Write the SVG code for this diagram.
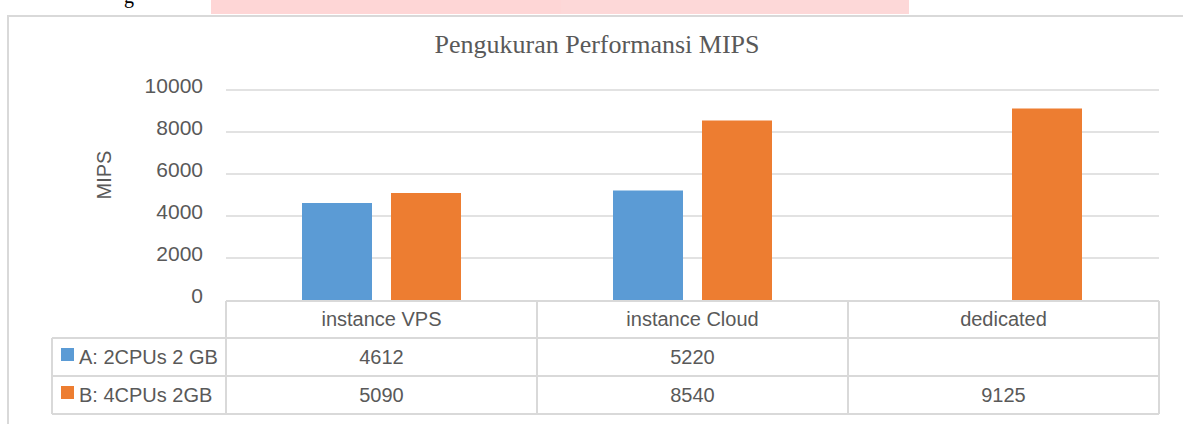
<svg xmlns="http://www.w3.org/2000/svg" width="1183" height="424" viewBox="0 0 1183 424">
<style>
.t{font-family:"Liberation Sans",Arial,sans-serif;font-size:20px;fill:#595959}
.y{font-size:21px}
.c{text-anchor:middle}
.r{text-anchor:end}
.g{stroke:#d9d9d9;stroke-width:1.6;fill:none}
.tb{stroke:#d9d9d9;stroke-width:2;fill:none}
.a{fill:#5b9bd5}
.b{fill:#ed7d31}
</style>
<rect width="1183" height="424" fill="#ffffff"/>
<g id="page-top">
<rect x="211" y="0" width="350" height="14" fill="#fed6d6"/>
<rect x="561" y="0" width="348" height="14" fill="#fdd8d8"/>
<text x="124" y="3" font-family="Liberation Serif,serif" font-size="20" fill="#000">g</text>
</g>
<rect id="chart-border" x="8" y="16" width="1200" height="440" fill="none" stroke="#d9d9d9" stroke-width="2"/>
<text id="title" x="597" y="53" class="c" font-family="Liberation Serif,'Times New Roman',serif" font-size="26" fill="#595959">Pengukuran Performansi MIPS</text>
<g id="gridlines">
<line class="g" x1="226" y1="90" x2="1159" y2="90"/>
<line class="g" x1="226" y1="132" x2="1159" y2="132"/>
<line class="g" x1="226" y1="174" x2="1159" y2="174"/>
<line class="g" x1="226" y1="216" x2="1159" y2="216"/>
<line class="g" x1="226" y1="258" x2="1159" y2="258"/>
</g>
<g id="y-axis">
<text class="t y r" x="203" y="93">10000</text>
<text class="t y r" x="203" y="135">8000</text>
<text class="t y r" x="203" y="177">6000</text>
<text class="t y r" x="203" y="219">4000</text>
<text class="t y r" x="203" y="261">2000</text>
<text class="t y r" x="203" y="303">0</text>
<text class="t c" font-size="23" transform="translate(111,175) rotate(-90)">MIPS</text>
</g>
<g id="bars">
<rect id="bar-a-vps" class="a" x="302" y="203" width="70" height="97"/>
<rect id="bar-b-vps" class="b" x="391" y="193" width="70" height="107"/>
<rect id="bar-a-cloud" class="a" x="613" y="190.5" width="70" height="109.5"/>
<rect id="bar-b-cloud" class="b" x="702" y="120.5" width="70" height="179.5"/>
<rect id="bar-b-dedicated" class="b" x="1012" y="108.5" width="70" height="191.5"/>
</g>
<g id="table">
<path class="tb" d="M226 301H1159M52 338H1159M52 376H1159M52 414H1159M52 338V414M226 301V414M537 301V414M848 301V414M1159 301V414"/>
<text class="t c" x="381.5" y="326">instance VPS</text>
<text class="t c" x="692.5" y="326">instance Cloud</text>
<text class="t c" x="1003.5" y="326">dedicated</text>
<rect class="a" x="61" y="348" width="13" height="13"/>
<text class="t" x="79" y="364">A: 2CPUs 2 GB</text>
<rect class="b" x="61" y="386" width="13" height="13"/>
<text class="t" x="79" y="402">B: 4CPUs 2GB</text>
<text class="t c" x="381.5" y="364">4612</text>
<text class="t c" x="692.5" y="364">5220</text>
<text class="t c" x="381.5" y="402">5090</text>
<text class="t c" x="692.5" y="402">8540</text>
<text class="t c" x="1003.5" y="402">9125</text>
</g>
</svg>
